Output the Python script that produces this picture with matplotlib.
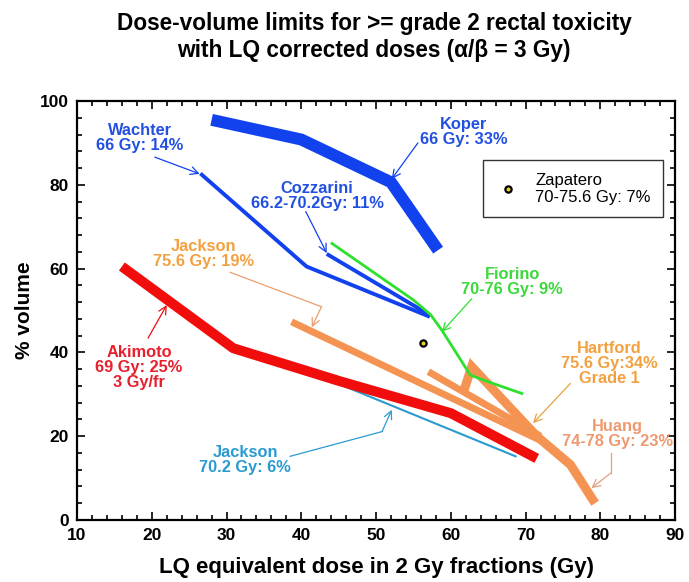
import matplotlib
matplotlib.use("Agg")
import matplotlib.pyplot as plt
from matplotlib.ticker import MultipleLocator

plt.rcParams['font.family'] = ['Liberation Sans', 'DejaVu Sans']

# Dose-volume constraint curves (dose in Gy EQD2, % rectal volume)
koper_x = [28.0, 40.0, 52.0, 58.3]
koper_y = [95.5, 90.8, 80.6, 64.4]

wachter_x = [26.5, 40.7, 57.2]
wachter_y = [82.7, 60.5, 48.5]

cozzarini_x = [43.4, 57.2]
cozzarini_y = [63.5, 48.9]

fiorino_x = [44.1, 55.0, 57.3, 58.8, 62.6, 64.5, 69.5]
fiorino_y = [66.0, 52.5, 49.0, 45.3, 34.6, 33.3, 30.2]

akimoto_x = [16.0, 30.9, 45.2, 60.0, 71.5]
akimoto_y = [60.5, 41.0, 33.1, 25.5, 14.7]

jackson702_x = [35.4, 68.8]
jackson702_y = [39.5, 15.1]

jackson756_x = [38.7, 72.0]
jackson756_y = [47.3, 19.0]

hartford_x = [57.0, 72.0]
hartford_y = [35.4, 20.0]

huang_x = [61.7, 62.8, 71.5, 76.0, 79.3]
huang_y = [30.6, 36.6, 20.0, 13.2, 4.0]

zapatero_x = [56.3]
zapatero_y = [42.2]

BLUE = '#1242EE'
BLUE_TXT = '#2250E0'
GREEN = '#2EE02E'
GREEN_TXT = '#3CD83C'
RED = '#F20D0D'
RED_TXT = '#E8202E'
CYAN = '#2A9BD0'
ORANGE = '#F59452'
ORANGE_TXT = '#F3A040'
SALMON_TXT = '#EE9A70'

LABEL_SIZE = 11.8

fig = plt.figure(figsize=(6.89, 5.82), dpi=100)
ax = fig.add_axes([0.1118, 0.1065, 0.8680, 0.7200])

ax.plot(koper_x, koper_y, color=BLUE, lw=8.6, solid_capstyle='butt', solid_joinstyle='miter')
ax.plot(wachter_x, wachter_y, color=BLUE, lw=2.8, solid_capstyle='butt')
ax.plot(cozzarini_x, cozzarini_y, color=BLUE, lw=2.8, solid_capstyle='butt')
ax.plot(jackson702_x, jackson702_y, color=CYAN, lw=1.5, solid_capstyle='butt')
ax.plot(jackson756_x, jackson756_y, color=ORANGE, lw=5.0, solid_capstyle='butt')
ax.plot(hartford_x, hartford_y, color=ORANGE, lw=5.0, solid_capstyle='butt')
ax.plot(huang_x, huang_y, color=ORANGE, lw=6.5, solid_capstyle='butt', solid_joinstyle='miter')
ax.plot(akimoto_x, akimoto_y, color=RED, lw=7.2, solid_capstyle='butt')
ax.plot(fiorino_x, fiorino_y, color=GREEN, lw=2.0)
ax.plot(zapatero_x, zapatero_y, linestyle='none', marker='o', ms=4.5,
        mfc='#E8D020', mec='black', mew=1.6, label='Zapatero\n70-75.6 Gy: 7%')

leg = ax.legend(loc='upper right', bbox_to_anchor=(0.98, 0.859), fontsize=12,
                frameon=True, fancybox=False, shadow=False, handlelength=1.5,
                handletextpad=0.9, borderpad=0.75, borderaxespad=0.0,
                markerscale=1.0)
leg.get_frame().set_edgecolor('black')
leg.get_frame().set_linewidth(1.0)

ax.set_xlim(10, 90)
ax.set_ylim(0, 100)
ax.xaxis.set_major_locator(MultipleLocator(10))
ax.xaxis.set_minor_locator(MultipleLocator(2))
ax.yaxis.set_major_locator(MultipleLocator(20))
ax.yaxis.set_minor_locator(MultipleLocator(4))
ax.tick_params(which='both', direction='in', top=True, right=True, width=1.2)
ax.tick_params(which='major', length=6, labelsize=12.5, pad=6)
ax.tick_params(which='minor', length=3.5)
for lab in ax.get_xticklabels() + ax.get_yticklabels():
    lab.set_fontweight('bold')
for sp in ax.spines.values():
    sp.set_linewidth(1.6)

ax.set_xlabel('LQ equivalent dose in 2 Gy fractions (Gy)', fontsize=16,
              fontweight='bold', labelpad=10)
ax.set_ylabel('% volume', fontsize=15, fontweight='bold', labelpad=4)

fig.text(0.543, 0.960, 'Dose-volume limits for >= grade 2 rectal toxicity',
         ha='center', va='center', fontsize=16.3, fontweight='bold')
fig.text(0.543, 0.914, 'with LQ corrected doses (\u03b1/\u03b2 = 3 Gy)',
         ha='center', va='center', fontsize=16.3, fontweight='bold')


def note(x, y, text, color):
    ax.text(x, y, text, ha='center', va='center', fontsize=LABEL_SIZE,
            fontweight='bold', color=color, linespacing=1.0)


def arrow(xy_start, xy_tip, color):
    ax.annotate('', xy=xy_tip, xytext=xy_start,
                arrowprops=dict(arrowstyle='->', color=color, lw=0.9,
                                shrinkA=0, shrinkB=0, mutation_scale=14))


def elbow_arrow(xy_start, xy_corner, xy_tip, color):
    ax.plot([xy_start[0], xy_corner[0]], [xy_start[1], xy_corner[1]],
            color=color, lw=0.9)
    arrow(xy_corner, xy_tip, color)


note(18.4, 91.2, 'Wachter\n66 Gy: 14%', BLUE_TXT)
arrow((20.4, 86.6), (26.4, 82.6), BLUE)

note(61.7, 92.7, 'Koper\n66 Gy: 33%', BLUE_TXT)
arrow((55.6, 90.0), (52.1, 81.4), BLUE)

note(42.1, 77.4, 'Cozzarini\n66.2-70.2Gy: 11%', BLUE_TXT)
arrow((40.6, 73.6), (43.4, 63.7), BLUE)

note(68.2, 56.7, 'Fiorino\n70-76 Gy: 9%', GREEN_TXT)
arrow((62.8, 52.8), (58.8, 44.9), GREEN)

note(18.3, 36.4, 'Akimoto\n69 Gy: 25%\n3 Gy/fr', RED_TXT)
arrow((19.5, 43.4), (22.0, 51.3), RED)

note(81.2, 37.4, 'Hartford\n75.6 Gy:34%\nGrade 1', ORANGE_TXT)
arrow((76.0, 32.6), (71.0, 23.1), '#E8A040')

note(26.9, 63.5, 'Jackson\n75.6 Gy: 19%', ORANGE_TXT)
elbow_arrow((30.5, 59.1), (42.7, 50.9), (41.4, 46.0), '#E8A070')

note(32.5, 14.3, 'Jackson\n70.2 Gy: 6%', CYAN)
elbow_arrow((38.5, 15.2), (50.8, 21.1), (52.1, 26.3), CYAN)

note(82.3, 20.5, 'Huang\n74-78 Gy: 23%', SALMON_TXT)
elbow_arrow((81.4, 16.0), (81.4, 11.2), (78.8, 7.6), '#E0A080')

fig.savefig('out.png', dpi=100)
